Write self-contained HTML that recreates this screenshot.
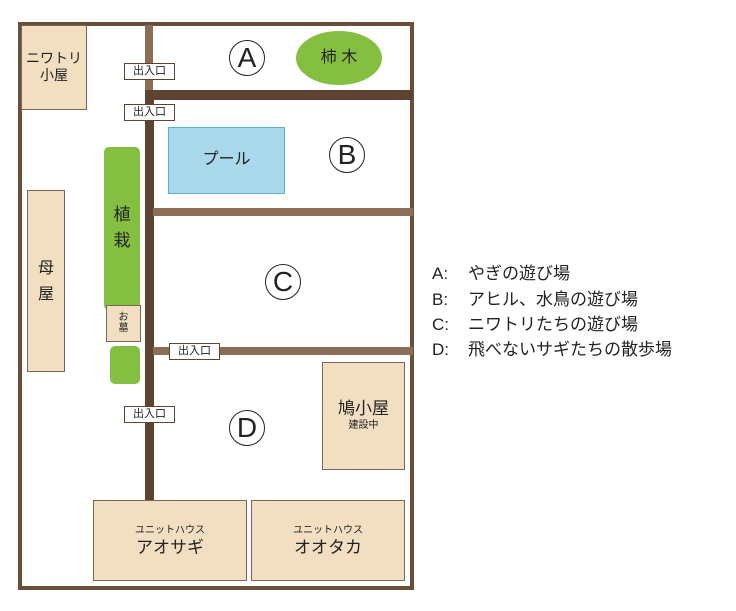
<!DOCTYPE html>
<html><head><meta charset="utf-8"><style>
body{margin:0;width:736px;height:611px;background:#fff;position:relative;overflow:hidden;font-family:"Liberation Sans","Noto Sans CJK JP",sans-serif;color:#222}
div{position:absolute;box-sizing:border-box}
.b{background:#f2dfc2;border:1.5px solid #7a6657;text-align:center}
.g{background:#84bf41}
.lbl{background:#fff;border:1.5px solid #5e4332;font-size:11px;text-align:center;line-height:14px}
.c{width:36px;height:36px;border:1.5px solid #222;border-radius:50%;font-size:28px;text-align:center;line-height:34px}
.dk{background:#5e4332}.lt{background:#8b6e55}
.lg{font-size:17px;left:432px;white-space:nowrap}
.lg span{display:inline-block;width:36px}
</style></head><body>
<div style="left:18px;top:22px;width:396px;height:568px;border:4px solid #6b4f3a"></div>
<div class="lt" style="left:145px;top:25px;width:8px;height:66px"></div>
<div class="dk" style="left:145px;top:90px;width:9px;height:411px"></div>
<div class="dk" style="left:145px;top:90px;width:268px;height:10px"></div>
<div class="lt" style="left:153px;top:208px;width:260px;height:8px"></div>
<div class="lt" style="left:153px;top:347px;width:260px;height:8px"></div>
<div class="b" style="left:21px;top:25px;width:66px;height:85px;font-size:14px;line-height:17px;padding-top:24px">ニワトリ<br>小屋</div>
<div class="lbl" style="left:124px;top:63px;width:51px;height:17px">出入口</div>
<div class="lbl" style="left:124px;top:104px;width:51px;height:17px">出入口</div>
<div class="lbl" style="left:169px;top:343px;width:51px;height:17px">出入口</div>
<div class="lbl" style="left:124px;top:406px;width:51px;height:17px">出入口</div>
<div style="left:168px;top:127px;width:117px;height:67px;background:#a8d8ea;border:1.5px solid #5bb0d8;font-size:16px;text-align:center;line-height:64px">プール</div>
<div class="g" style="left:296px;top:31px;width:86px;height:54px;border-radius:50%;font-size:16px;text-align:center;line-height:54px">柿 木</div>
<div class="c" style="left:229px;top:40px">A</div>
<div class="c" style="left:329px;top:137px">B</div>
<div class="c" style="left:265px;top:264px">C</div>
<div class="c" style="left:229px;top:410px">D</div>
<div class="g" style="left:104px;top:147px;width:36px;height:163px;border-radius:5px;font-size:17px;text-align:center;line-height:26px;padding-top:55px">植<br>栽</div>
<div class="b" style="left:106px;top:305px;width:35px;height:37px;font-size:10px;line-height:11px;padding-top:6px">お<br>墓</div>
<div class="g" style="left:110px;top:346px;width:30px;height:38px;border-radius:5px"></div>
<div class="b" style="left:27px;top:190px;width:38px;height:182px;font-size:16px;line-height:26px;padding-top:65px">母<br>屋</div>
<div class="b" style="left:322px;top:362px;width:83px;height:108px;padding-top:36px"><div style="position:static;font-size:17px;line-height:20px">鳩小屋</div><div style="position:static;font-size:10px;line-height:14px">建設中</div></div>
<div class="b" style="left:93px;top:500px;width:154px;height:81px;padding-top:23px"><div style="position:static;font-size:10px;line-height:13px">ユニットハウス</div><div style="position:static;font-size:17px;line-height:22px">アオサギ</div></div>
<div class="b" style="left:251px;top:500px;width:154px;height:81px;padding-top:23px"><div style="position:static;font-size:10px;line-height:13px">ユニットハウス</div><div style="position:static;font-size:17px;line-height:22px">オオタカ</div></div>
<div class="lg" style="top:259px"><span>A:</span>やぎの遊び場</div>
<div class="lg" style="top:285px"><span>B:</span>アヒル、水鳥の遊び場</div>
<div class="lg" style="top:310px"><span>C:</span>ニワトリたちの遊び場</div>
<div class="lg" style="top:335px"><span>D:</span>飛べないサギたちの散歩場</div>
</body></html>
